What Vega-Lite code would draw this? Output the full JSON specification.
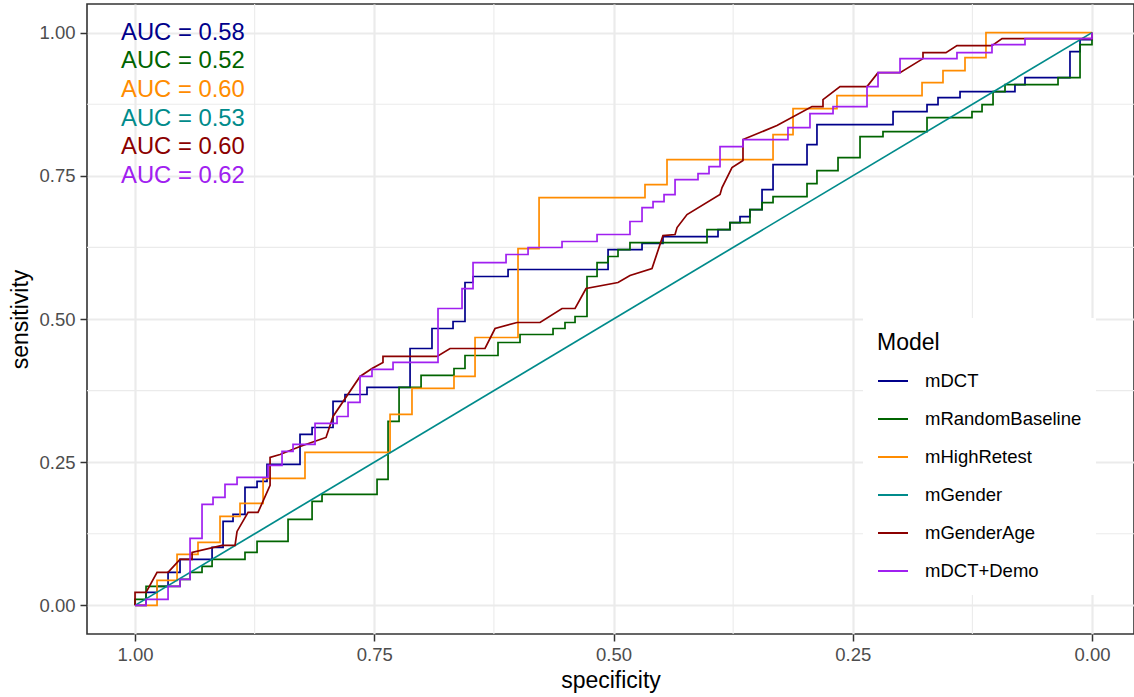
{
"$schema":"https://vega.github.io/schema/vega-lite/v6.json",
"width":1047,"height":630,
"autosize":{"type":"none"},
"padding":{"left":87,"top":4,"right":0,"bottom":63},
"background":"white",
"config":{
 "font":"Liberation Sans",
 "view":{"stroke":"#333333","strokeWidth":1.6},
 "axis":{"grid":true,"gridColor":"#EBEBEB","gridWidth":2.2,"domain":false,"tickColor":"#333333","tickWidth":1.5,"tickSize":7,"labelFontSize":18.5,"labelColor":"#4D4D4D","labelFont":"Liberation Sans","titleFont":"Liberation Sans","titleFontSize":23,"titleFontWeight":"normal","titleColor":"black"},
 "legend":{"orient":"none","legendX":776,"legendY":314,"fillColor":"white","padding":14,"titleFontSize":23,"titleFontWeight":"normal","titleColor":"black","titleFont":"Liberation Sans","labelFont":"Liberation Sans","labelFontSize":18.5,"labelColor":"black","symbolType":"stroke","symbolSize":900,"symbolStrokeWidth":2,"rowPadding":12,"labelOffset":16,"titlePadding":10,"labelLimit":300}
},
"datasets":{
 "gx":[{"v":0.125},{"v":0.375},{"v":0.625},{"v":0.875}],
 "gy":[{"v":0.125},{"v":0.375},{"v":0.625},{"v":0.875}],
 "auc":[
  {"model":"mDCT","label":"AUC = 0.58","spec":0.95,"sens":1.0},
  {"model":"mRandomBaseline","label":"AUC = 0.52","spec":0.95,"sens":0.95},
  {"model":"mHighRetest","label":"AUC = 0.60","spec":0.95,"sens":0.90},
  {"model":"mGender","label":"AUC = 0.53","spec":0.95,"sens":0.85},
  {"model":"mGenderAge","label":"AUC = 0.60","spec":0.95,"sens":0.80},
  {"model":"mDCT+Demo","label":"AUC = 0.62","spec":0.95,"sens":0.75}
 ],
 "roc":[
{"model":"mDCT","spec":1,"sens":0},{"model":"mDCT","spec":0.9885,"sens":0},{"model":"mDCT","spec":0.9885,"sens":0.0227},{"model":"mDCT","spec":0.977,"sens":0.0227},{"model":"mDCT","spec":0.977,"sens":0.0332},{"model":"mDCT","spec":0.9655,"sens":0.0332},{"model":"mDCT","spec":0.9655,"sens":0.0576},{"model":"mDCT","spec":0.953,"sens":0.0576},{"model":"mDCT","spec":0.953,"sens":0.0803},{"model":"mDCT","spec":0.9195,"sens":0.0803},{"model":"mDCT","spec":0.9195,"sens":0.1012},{"model":"mDCT","spec":0.908,"sens":0.1012},{"model":"mDCT","spec":0.908,"sens":0.1466},{"model":"mDCT","spec":0.8976,"sens":0.1466},{"model":"mDCT","spec":0.8976,"sens":0.1588},{"model":"mDCT","spec":0.8851,"sens":0.1588},{"model":"mDCT","spec":0.8851,"sens":0.2059},{"model":"mDCT","spec":0.8725,"sens":0.2059},{"model":"mDCT","spec":0.8725,"sens":0.2164},{"model":"mDCT","spec":0.8621,"sens":0.2164},{"model":"mDCT","spec":0.8621,"sens":0.2461},{"model":"mDCT","spec":0.8276,"sens":0.2461},{"model":"mDCT","spec":0.8276,"sens":0.2984},{"model":"mDCT","spec":0.815,"sens":0.2984},{"model":"mDCT","spec":0.815,"sens":0.3106},{"model":"mDCT","spec":0.7931,"sens":0.3106},{"model":"mDCT","spec":0.7931,"sens":0.356},{"model":"mDCT","spec":0.7806,"sens":0.356},{"model":"mDCT","spec":0.7806,"sens":0.3682},{"model":"mDCT","spec":0.7576,"sens":0.3682},{"model":"mDCT","spec":0.7576,"sens":0.3805},{"model":"mDCT","spec":0.7126,"sens":0.3805},{"model":"mDCT","spec":0.7126,"sens":0.4485},{"model":"mDCT","spec":0.6897,"sens":0.4485},{"model":"mDCT","spec":0.6897,"sens":0.4834},{"model":"mDCT","spec":0.6677,"sens":0.4834},{"model":"mDCT","spec":0.6677,"sens":0.4956},{"model":"mDCT","spec":0.6552,"sens":0.4956},{"model":"mDCT","spec":0.6552,"sens":0.5637},{"model":"mDCT","spec":0.6468,"sens":0.5637},{"model":"mDCT","spec":0.6468,"sens":0.5742},{"model":"mDCT","spec":0.6102,"sens":0.5742},{"model":"mDCT","spec":0.6102,"sens":0.5864},{"model":"mDCT","spec":0.5057,"sens":0.5864},{"model":"mDCT","spec":0.5057,"sens":0.6213},{"model":"mDCT","spec":0.4702,"sens":0.6213},{"model":"mDCT","spec":0.4702,"sens":0.6318},{"model":"mDCT","spec":0.4483,"sens":0.6318},{"model":"mDCT","spec":0.4483,"sens":0.644},{"model":"mDCT","spec":0.3908,"sens":0.644},{"model":"mDCT","spec":0.3908,"sens":0.6562},{"model":"mDCT","spec":0.3783,"sens":0.6562},{"model":"mDCT","spec":0.3783,"sens":0.6684},{"model":"mDCT","spec":0.3678,"sens":0.6684},{"model":"mDCT","spec":0.3678,"sens":0.6789},{"model":"mDCT","spec":0.3574,"sens":0.6789},{"model":"mDCT","spec":0.3574,"sens":0.6911},{"model":"mDCT","spec":0.3448,"sens":0.6911},{"model":"mDCT","spec":0.3448,"sens":0.726},{"model":"mDCT","spec":0.3333,"sens":0.726},{"model":"mDCT","spec":0.3333,"sens":0.7696},{"model":"mDCT","spec":0.2978,"sens":0.7696},{"model":"mDCT","spec":0.2978,"sens":0.8045},{"model":"mDCT","spec":0.2874,"sens":0.8045},{"model":"mDCT","spec":0.2874,"sens":0.8394},{"model":"mDCT","spec":0.2079,"sens":0.8394},{"model":"mDCT","spec":0.2079,"sens":0.8621},{"model":"mDCT","spec":0.1724,"sens":0.8621},{"model":"mDCT","spec":0.1724,"sens":0.8743},{"model":"mDCT","spec":0.1609,"sens":0.8743},{"model":"mDCT","spec":0.1609,"sens":0.8866},{"model":"mDCT","spec":0.1379,"sens":0.8866},{"model":"mDCT","spec":0.1379,"sens":0.897},{"model":"mDCT","spec":0.0805,"sens":0.897},{"model":"mDCT","spec":0.0805,"sens":0.9092},{"model":"mDCT","spec":0.07,"sens":0.9092},{"model":"mDCT","spec":0.07,"sens":0.9215},{"model":"mDCT","spec":0.023,"sens":0.9215},{"model":"mDCT","spec":0.023,"sens":0.9668},{"model":"mDCT","spec":0.0125,"sens":0.9668},{"model":"mDCT","spec":0.0125,"sens":0.9878},{"model":"mDCT","spec":0,"sens":0.9878},{"model":"mDCT","spec":0,"sens":1},
{"model":"mRandomBaseline","spec":1,"sens":0},{"model":"mRandomBaseline","spec":1,"sens":0.0105},{"model":"mRandomBaseline","spec":0.9885,"sens":0.0105},{"model":"mRandomBaseline","spec":0.9885,"sens":0.0332},{"model":"mRandomBaseline","spec":0.953,"sens":0.0332},{"model":"mRandomBaseline","spec":0.953,"sens":0.0454},{"model":"mRandomBaseline","spec":0.9425,"sens":0.0454},{"model":"mRandomBaseline","spec":0.9425,"sens":0.0576},{"model":"mRandomBaseline","spec":0.93,"sens":0.0576},{"model":"mRandomBaseline","spec":0.93,"sens":0.0681},{"model":"mRandomBaseline","spec":0.9195,"sens":0.0681},{"model":"mRandomBaseline","spec":0.9195,"sens":0.0803},{"model":"mRandomBaseline","spec":0.8851,"sens":0.0803},{"model":"mRandomBaseline","spec":0.8851,"sens":0.0925},{"model":"mRandomBaseline","spec":0.8725,"sens":0.0925},{"model":"mRandomBaseline","spec":0.8725,"sens":0.1117},{"model":"mRandomBaseline","spec":0.8401,"sens":0.1117},{"model":"mRandomBaseline","spec":0.8401,"sens":0.1501},{"model":"mRandomBaseline","spec":0.815,"sens":0.1501},{"model":"mRandomBaseline","spec":0.815,"sens":0.1815},{"model":"mRandomBaseline","spec":0.8046,"sens":0.1815},{"model":"mRandomBaseline","spec":0.8046,"sens":0.1937},{"model":"mRandomBaseline","spec":0.7471,"sens":0.1937},{"model":"mRandomBaseline","spec":0.7471,"sens":0.2199},{"model":"mRandomBaseline","spec":0.7356,"sens":0.2199},{"model":"mRandomBaseline","spec":0.7356,"sens":0.3211},{"model":"mRandomBaseline","spec":0.7241,"sens":0.3211},{"model":"mRandomBaseline","spec":0.7241,"sens":0.3805},{"model":"mRandomBaseline","spec":0.7011,"sens":0.3805},{"model":"mRandomBaseline","spec":0.7011,"sens":0.4014},{"model":"mRandomBaseline","spec":0.6667,"sens":0.4014},{"model":"mRandomBaseline","spec":0.6667,"sens":0.4136},{"model":"mRandomBaseline","spec":0.6552,"sens":0.4136},{"model":"mRandomBaseline","spec":0.6552,"sens":0.4363},{"model":"mRandomBaseline","spec":0.6207,"sens":0.4363},{"model":"mRandomBaseline","spec":0.6207,"sens":0.459},{"model":"mRandomBaseline","spec":0.5977,"sens":0.459},{"model":"mRandomBaseline","spec":0.5977,"sens":0.4729},{"model":"mRandomBaseline","spec":0.5632,"sens":0.4729},{"model":"mRandomBaseline","spec":0.5632,"sens":0.4834},{"model":"mRandomBaseline","spec":0.5507,"sens":0.4834},{"model":"mRandomBaseline","spec":0.5507,"sens":0.4939},{"model":"mRandomBaseline","spec":0.5402,"sens":0.4939},{"model":"mRandomBaseline","spec":0.5402,"sens":0.5044},{"model":"mRandomBaseline","spec":0.5277,"sens":0.5044},{"model":"mRandomBaseline","spec":0.5277,"sens":0.5742},{"model":"mRandomBaseline","spec":0.5172,"sens":0.5742},{"model":"mRandomBaseline","spec":0.5172,"sens":0.5986},{"model":"mRandomBaseline","spec":0.5057,"sens":0.5986},{"model":"mRandomBaseline","spec":0.5057,"sens":0.6091},{"model":"mRandomBaseline","spec":0.4953,"sens":0.6091},{"model":"mRandomBaseline","spec":0.4953,"sens":0.6213},{"model":"mRandomBaseline","spec":0.4828,"sens":0.6213},{"model":"mRandomBaseline","spec":0.4828,"sens":0.6335},{"model":"mRandomBaseline","spec":0.4023,"sens":0.6335},{"model":"mRandomBaseline","spec":0.4023,"sens":0.6562},{"model":"mRandomBaseline","spec":0.3783,"sens":0.6562},{"model":"mRandomBaseline","spec":0.3783,"sens":0.6684},{"model":"mRandomBaseline","spec":0.3574,"sens":0.6684},{"model":"mRandomBaseline","spec":0.3574,"sens":0.6911},{"model":"mRandomBaseline","spec":0.3448,"sens":0.6911},{"model":"mRandomBaseline","spec":0.3448,"sens":0.7033},{"model":"mRandomBaseline","spec":0.3333,"sens":0.7033},{"model":"mRandomBaseline","spec":0.3333,"sens":0.7138},{"model":"mRandomBaseline","spec":0.2978,"sens":0.7138},{"model":"mRandomBaseline","spec":0.2978,"sens":0.7365},{"model":"mRandomBaseline","spec":0.2874,"sens":0.7365},{"model":"mRandomBaseline","spec":0.2874,"sens":0.7592},{"model":"mRandomBaseline","spec":0.2654,"sens":0.7592},{"model":"mRandomBaseline","spec":0.2654,"sens":0.7818},{"model":"mRandomBaseline","spec":0.2424,"sens":0.7818},{"model":"mRandomBaseline","spec":0.2424,"sens":0.8185},{"model":"mRandomBaseline","spec":0.2184,"sens":0.8185},{"model":"mRandomBaseline","spec":0.2184,"sens":0.8272},{"model":"mRandomBaseline","spec":0.1724,"sens":0.8272},{"model":"mRandomBaseline","spec":0.1724,"sens":0.8517},{"model":"mRandomBaseline","spec":0.1254,"sens":0.8517},{"model":"mRandomBaseline","spec":0.1254,"sens":0.8621},{"model":"mRandomBaseline","spec":0.1149,"sens":0.8621},{"model":"mRandomBaseline","spec":0.1149,"sens":0.8743},{"model":"mRandomBaseline","spec":0.1034,"sens":0.8743},{"model":"mRandomBaseline","spec":0.1034,"sens":0.897},{"model":"mRandomBaseline","spec":0.0909,"sens":0.897},{"model":"mRandomBaseline","spec":0.0909,"sens":0.9092},{"model":"mRandomBaseline","spec":0.0355,"sens":0.9092},{"model":"mRandomBaseline","spec":0.0355,"sens":0.9215},{"model":"mRandomBaseline","spec":0.0125,"sens":0.9215},{"model":"mRandomBaseline","spec":0.0125,"sens":0.9791},{"model":"mRandomBaseline","spec":0,"sens":0.9791},{"model":"mRandomBaseline","spec":0,"sens":1},
{"model":"mHighRetest","spec":1,"sens":0},{"model":"mHighRetest","spec":0.977,"sens":0},{"model":"mHighRetest","spec":0.977,"sens":0.0436},{"model":"mHighRetest","spec":0.9561,"sens":0.0436},{"model":"mHighRetest","spec":0.9561,"sens":0.089},{"model":"mHighRetest","spec":0.9342,"sens":0.089},{"model":"mHighRetest","spec":0.9342,"sens":0.1099},{"model":"mHighRetest","spec":0.9112,"sens":0.1099},{"model":"mHighRetest","spec":0.9112,"sens":0.1553},{"model":"mHighRetest","spec":0.8903,"sens":0.1553},{"model":"mHighRetest","spec":0.8903,"sens":0.178},{"model":"mHighRetest","spec":0.8662,"sens":0.178},{"model":"mHighRetest","spec":0.8662,"sens":0.2216},{"model":"mHighRetest","spec":0.8224,"sens":0.2216},{"model":"mHighRetest","spec":0.8224,"sens":0.267},{"model":"mHighRetest","spec":0.7335,"sens":0.267},{"model":"mHighRetest","spec":0.7335,"sens":0.3333},{"model":"mHighRetest","spec":0.7106,"sens":0.3333},{"model":"mHighRetest","spec":0.7106,"sens":0.3787},{"model":"mHighRetest","spec":0.6667,"sens":0.3787},{"model":"mHighRetest","spec":0.6667,"sens":0.3997},{"model":"mHighRetest","spec":0.6447,"sens":0.3997},{"model":"mHighRetest","spec":0.6447,"sens":0.4677},{"model":"mHighRetest","spec":0.5998,"sens":0.4677},{"model":"mHighRetest","spec":0.5998,"sens":0.623},{"model":"mHighRetest","spec":0.5778,"sens":0.623},{"model":"mHighRetest","spec":0.5778,"sens":0.712},{"model":"mHighRetest","spec":0.4671,"sens":0.712},{"model":"mHighRetest","spec":0.4671,"sens":0.7347},{"model":"mHighRetest","spec":0.4441,"sens":0.7347},{"model":"mHighRetest","spec":0.4441,"sens":0.7784},{"model":"mHighRetest","spec":0.3333,"sens":0.7784},{"model":"mHighRetest","spec":0.3333,"sens":0.822},{"model":"mHighRetest","spec":0.3124,"sens":0.822},{"model":"mHighRetest","spec":0.3124,"sens":0.8674},{"model":"mHighRetest","spec":0.2665,"sens":0.8674},{"model":"mHighRetest","spec":0.2665,"sens":0.8901},{"model":"mHighRetest","spec":0.1776,"sens":0.8901},{"model":"mHighRetest","spec":0.1776,"sens":0.9127},{"model":"mHighRetest","spec":0.1557,"sens":0.9127},{"model":"mHighRetest","spec":0.1557,"sens":0.9337},{"model":"mHighRetest","spec":0.1327,"sens":0.9337},{"model":"mHighRetest","spec":0.1327,"sens":0.9564},{"model":"mHighRetest","spec":0.1108,"sens":0.9564},{"model":"mHighRetest","spec":0.1108,"sens":1},{"model":"mHighRetest","spec":0,"sens":1},
{"model":"mGender","spec":1,"sens":0},{"model":"mGender","spec":0,"sens":1},
{"model":"mGenderAge","spec":1,"sens":0},{"model":"mGenderAge","spec":1,"sens":0.0227},{"model":"mGenderAge","spec":0.9885,"sens":0.0227},{"model":"mGenderAge","spec":0.977,"sens":0.0576},{"model":"mGenderAge","spec":0.9655,"sens":0.0576},{"model":"mGenderAge","spec":0.953,"sens":0.0803},{"model":"mGenderAge","spec":0.9404,"sens":0.0803},{"model":"mGenderAge","spec":0.9404,"sens":0.0925},{"model":"mGenderAge","spec":0.9091,"sens":0.1047},{"model":"mGenderAge","spec":0.8955,"sens":0.1047},{"model":"mGenderAge","spec":0.8934,"sens":0.1291},{"model":"mGenderAge","spec":0.8819,"sens":0.1623},{"model":"mGenderAge","spec":0.8715,"sens":0.1623},{"model":"mGenderAge","spec":0.8589,"sens":0.2094},{"model":"mGenderAge","spec":0.8589,"sens":0.2583},{"model":"mGenderAge","spec":0.8485,"sens":0.2635},{"model":"mGenderAge","spec":0.8276,"sens":0.2775},{"model":"mGenderAge","spec":0.8067,"sens":0.2897},{"model":"mGenderAge","spec":0.8004,"sens":0.2932},{"model":"mGenderAge","spec":0.7931,"sens":0.3298},{"model":"mGenderAge","spec":0.7649,"sens":0.3997},{"model":"mGenderAge","spec":0.7524,"sens":0.4136},{"model":"mGenderAge","spec":0.7409,"sens":0.4241},{"model":"mGenderAge","spec":0.7409,"sens":0.4346},{"model":"mGenderAge","spec":0.6844,"sens":0.4346},{"model":"mGenderAge","spec":0.6708,"sens":0.4485},{"model":"mGenderAge","spec":0.6343,"sens":0.4485},{"model":"mGenderAge","spec":0.6238,"sens":0.4834},{"model":"mGenderAge","spec":0.6008,"sens":0.4939},{"model":"mGenderAge","spec":0.5768,"sens":0.4939},{"model":"mGenderAge","spec":0.5538,"sens":0.5183},{"model":"mGenderAge","spec":0.5402,"sens":0.5183},{"model":"mGenderAge","spec":0.5287,"sens":0.5532},{"model":"mGenderAge","spec":0.4953,"sens":0.5637},{"model":"mGenderAge","spec":0.4828,"sens":0.5759},{"model":"mGenderAge","spec":0.4598,"sens":0.5881},{"model":"mGenderAge","spec":0.4483,"sens":0.6457},{"model":"mGenderAge","spec":0.4357,"sens":0.6475},{"model":"mGenderAge","spec":0.4336,"sens":0.6597},{"model":"mGenderAge","spec":0.4232,"sens":0.6824},{"model":"mGenderAge","spec":0.3887,"sens":0.7173},{"model":"mGenderAge","spec":0.3866,"sens":0.7295},{"model":"mGenderAge","spec":0.3762,"sens":0.7644},{"model":"mGenderAge","spec":0.3647,"sens":0.7766},{"model":"mGenderAge","spec":0.3647,"sens":0.8133},{"model":"mGenderAge","spec":0.3292,"sens":0.8377},{"model":"mGenderAge","spec":0.2926,"sens":0.8709},{"model":"mGenderAge","spec":0.2811,"sens":0.8709},{"model":"mGenderAge","spec":0.2811,"sens":0.8831},{"model":"mGenderAge","spec":0.2633,"sens":0.9058},{"model":"mGenderAge","spec":0.2351,"sens":0.9058},{"model":"mGenderAge","spec":0.2236,"sens":0.9302},{"model":"mGenderAge","spec":0.2006,"sens":0.9302},{"model":"mGenderAge","spec":0.1766,"sens":0.9546},{"model":"mGenderAge","spec":0.1766,"sens":0.9651},{"model":"mGenderAge","spec":0.1526,"sens":0.9651},{"model":"mGenderAge","spec":0.1411,"sens":0.9773},{"model":"mGenderAge","spec":0.1045,"sens":0.9773},{"model":"mGenderAge","spec":0.094,"sens":0.9895},{"model":"mGenderAge","spec":0.0721,"sens":0.9895},{"model":"mGenderAge","spec":0,"sens":0.9895},{"model":"mGenderAge","spec":0,"sens":1},
{"model":"mDCT+Demo","spec":1,"sens":0},{"model":"mDCT+Demo","spec":0.9885,"sens":0},{"model":"mDCT+Demo","spec":0.9885,"sens":0.0105},{"model":"mDCT+Demo","spec":0.9655,"sens":0.0105},{"model":"mDCT+Demo","spec":0.9655,"sens":0.0332},{"model":"mDCT+Demo","spec":0.953,"sens":0.0332},{"model":"mDCT+Demo","spec":0.953,"sens":0.0454},{"model":"mDCT+Demo","spec":0.9425,"sens":0.0454},{"model":"mDCT+Demo","spec":0.9425,"sens":0.1169},{"model":"mDCT+Demo","spec":0.93,"sens":0.1169},{"model":"mDCT+Demo","spec":0.93,"sens":0.1763},{"model":"mDCT+Demo","spec":0.9185,"sens":0.1763},{"model":"mDCT+Demo","spec":0.9185,"sens":0.1885},{"model":"mDCT+Demo","spec":0.906,"sens":0.1885},{"model":"mDCT+Demo","spec":0.906,"sens":0.2112},{"model":"mDCT+Demo","spec":0.8934,"sens":0.2112},{"model":"mDCT+Demo","spec":0.8934,"sens":0.2234},{"model":"mDCT+Demo","spec":0.861,"sens":0.2234},{"model":"mDCT+Demo","spec":0.861,"sens":0.2443},{"model":"mDCT+Demo","spec":0.8464,"sens":0.2443},{"model":"mDCT+Demo","spec":0.8464,"sens":0.2688},{"model":"mDCT+Demo","spec":0.8349,"sens":0.2688},{"model":"mDCT+Demo","spec":0.8349,"sens":0.281},{"model":"mDCT+Demo","spec":0.8119,"sens":0.281},{"model":"mDCT+Demo","spec":0.8119,"sens":0.3176},{"model":"mDCT+Demo","spec":0.7889,"sens":0.3176},{"model":"mDCT+Demo","spec":0.7889,"sens":0.3298},{"model":"mDCT+Demo","spec":0.7774,"sens":0.3298},{"model":"mDCT+Demo","spec":0.7774,"sens":0.3543},{"model":"mDCT+Demo","spec":0.7649,"sens":0.3543},{"model":"mDCT+Demo","spec":0.7649,"sens":0.3997},{"model":"mDCT+Demo","spec":0.7524,"sens":0.3997},{"model":"mDCT+Demo","spec":0.7524,"sens":0.4119},{"model":"mDCT+Demo","spec":0.7304,"sens":0.4119},{"model":"mDCT+Demo","spec":0.7304,"sens":0.4241},{"model":"mDCT+Demo","spec":0.6834,"sens":0.4241},{"model":"mDCT+Demo","spec":0.6834,"sens":0.5183},{"model":"mDCT+Demo","spec":0.6583,"sens":0.5183},{"model":"mDCT+Demo","spec":0.6583,"sens":0.5532},{"model":"mDCT+Demo","spec":0.6468,"sens":0.5532},{"model":"mDCT+Demo","spec":0.6468,"sens":0.5986},{"model":"mDCT+Demo","spec":0.6123,"sens":0.5986},{"model":"mDCT+Demo","spec":0.6123,"sens":0.6126},{"model":"mDCT+Demo","spec":0.5893,"sens":0.6126},{"model":"mDCT+Demo","spec":0.5893,"sens":0.6248},{"model":"mDCT+Demo","spec":0.5538,"sens":0.6248},{"model":"mDCT+Demo","spec":0.5538,"sens":0.6353},{"model":"mDCT+Demo","spec":0.5172,"sens":0.6353},{"model":"mDCT+Demo","spec":0.5172,"sens":0.6475},{"model":"mDCT+Demo","spec":0.4828,"sens":0.6475},{"model":"mDCT+Demo","spec":0.4828,"sens":0.6702},{"model":"mDCT+Demo","spec":0.4702,"sens":0.6702},{"model":"mDCT+Demo","spec":0.4702,"sens":0.6946},{"model":"mDCT+Demo","spec":0.4587,"sens":0.6946},{"model":"mDCT+Demo","spec":0.4587,"sens":0.7051},{"model":"mDCT+Demo","spec":0.4472,"sens":0.7051},{"model":"mDCT+Demo","spec":0.4472,"sens":0.7173},{"model":"mDCT+Demo","spec":0.4357,"sens":0.7173},{"model":"mDCT+Demo","spec":0.4357,"sens":0.7435},{"model":"mDCT+Demo","spec":0.4117,"sens":0.7435},{"model":"mDCT+Demo","spec":0.4117,"sens":0.7539},{"model":"mDCT+Demo","spec":0.4002,"sens":0.7539},{"model":"mDCT+Demo","spec":0.4002,"sens":0.7661},{"model":"mDCT+Demo","spec":0.3887,"sens":0.7661},{"model":"mDCT+Demo","spec":0.3887,"sens":0.801},{"model":"mDCT+Demo","spec":0.3647,"sens":0.801},{"model":"mDCT+Demo","spec":0.3647,"sens":0.8133},{"model":"mDCT+Demo","spec":0.3177,"sens":0.8133},{"model":"mDCT+Demo","spec":0.3177,"sens":0.8342},{"model":"mDCT+Demo","spec":0.2947,"sens":0.8342},{"model":"mDCT+Demo","spec":0.2947,"sens":0.8586},{"model":"mDCT+Demo","spec":0.2706,"sens":0.8586},{"model":"mDCT+Demo","spec":0.2706,"sens":0.8709},{"model":"mDCT+Demo","spec":0.2351,"sens":0.8709},{"model":"mDCT+Demo","spec":0.2351,"sens":0.9058},{"model":"mDCT+Demo","spec":0.2236,"sens":0.9058},{"model":"mDCT+Demo","spec":0.2236,"sens":0.9302},{"model":"mDCT+Demo","spec":0.2006,"sens":0.9302},{"model":"mDCT+Demo","spec":0.2006,"sens":0.9546},{"model":"mDCT+Demo","spec":0.1411,"sens":0.9546},{"model":"mDCT+Demo","spec":0.1411,"sens":0.9651},{"model":"mDCT+Demo","spec":0.1045,"sens":0.9651},{"model":"mDCT+Demo","spec":0.1045,"sens":0.9791},{"model":"mDCT+Demo","spec":0.07,"sens":0.9791},{"model":"mDCT+Demo","spec":0.07,"sens":0.9895},{"model":"mDCT+Demo","spec":0,"sens":0.9895},{"model":"mDCT+Demo","spec":0,"sens":1}
 ]
},
"layer":[
 {"data":{"name":"gx"},"mark":{"type":"rule","color":"#EBEBEB","strokeWidth":1.1},
  "encoding":{"x":{"field":"v","type":"quantitative","scale":{"domain":[-0.0439,1.0502],"reverse":true,"nice":false,"zero":false},"axis":{"values":[0,0.25,0.5,0.75,1],"format":".2f","title":"specificity","labelPadding":4,"titlePadding":6}}}},
 {"data":{"name":"gy"},"mark":{"type":"rule","color":"#EBEBEB","strokeWidth":1.1},
  "encoding":{"y":{"field":"v","type":"quantitative","scale":{"domain":[-0.05,1.05],"nice":false,"zero":false},"axis":{"values":[0,0.25,0.5,0.75,1],"format":".2f","title":"sensitivity","labelPadding":5,"titlePadding":6}}}},
 {"data":{"name":"roc"},"mark":{"type":"line","strokeWidth":1.7,"interpolate":"linear"},
  "encoding":{
   "x":{"field":"spec","type":"quantitative","scale":{"domain":[-0.0439,1.0502],"reverse":true,"nice":false,"zero":false},"axis":{"values":[0,0.25,0.5,0.75,1],"format":".2f","title":"specificity","labelPadding":4,"titlePadding":6}},
   "y":{"field":"sens","type":"quantitative","scale":{"domain":[-0.05,1.05],"nice":false,"zero":false},"axis":{"values":[0,0.25,0.5,0.75,1],"format":".2f","title":"sensitivity","labelPadding":5,"titlePadding":6}},
   "color":{"field":"model","type":"nominal","scale":{"domain":["mDCT","mRandomBaseline","mHighRetest","mGender","mGenderAge","mDCT+Demo"],"range":["#00008B","#006400","#FF8C00","#008B8B","#8B0000","#A020F0"]},"legend":{"title":"Model"}},
   "order":[{"field":"sens","sort":"ascending"},{"field":"spec","sort":"descending"}]
  }},
 {"data":{"name":"auc"},"mark":{"type":"text","fontSize":23.8,"align":"center","baseline":"middle","font":"Liberation Sans"},
  "encoding":{
   "x":{"field":"spec","type":"quantitative","scale":{"domain":[-0.0439,1.0502],"reverse":true,"nice":false,"zero":false},"axis":{"values":[0,0.25,0.5,0.75,1],"format":".2f","title":"specificity","labelPadding":4,"titlePadding":6}},
   "y":{"field":"sens","type":"quantitative","scale":{"domain":[-0.05,1.05],"nice":false,"zero":false},"axis":{"values":[0,0.25,0.5,0.75,1],"format":".2f","title":"sensitivity","labelPadding":5,"titlePadding":6}},
   "text":{"field":"label"},
   "color":{"field":"model","type":"nominal","legend":null}
  }}
]
}
